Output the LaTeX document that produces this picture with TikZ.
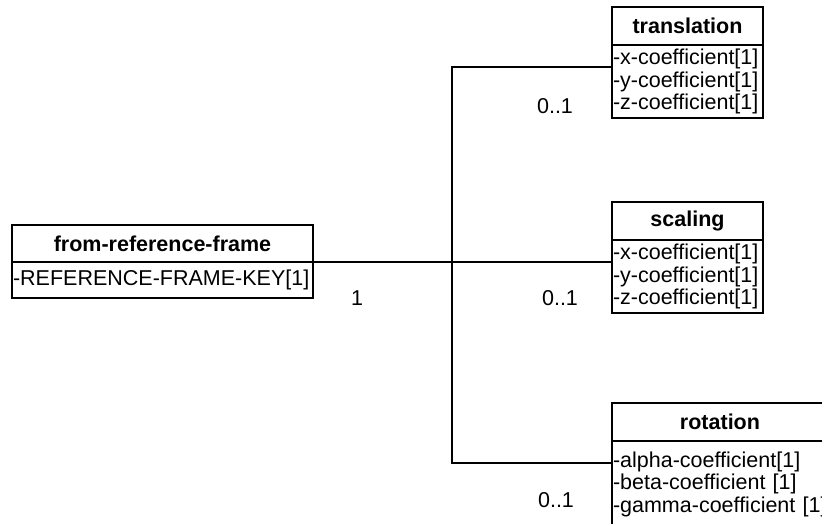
\documentclass[tikz,border=0pt]{standalone}
\usepackage{fontspec}
\setmainfont{Liberation Sans}
\begin{document}
\begin{tikzpicture}[x=1pt,y=-1pt,
  umlhead/.style={draw, line width=1.5pt, inner sep=0pt, outer sep=0pt,
    anchor=north west, minimum height=38pt,
    font=\bfseries\fontsize{21.5}{22.5}\selectfont},
  umlattr/.style={draw, line width=1.5pt, inner xsep=1pt, inner ysep=0pt,
    outer sep=0pt, anchor=north west, align=left,
    font=\fontsize{21.5}{22.5}\selectfont},
  link/.style={line width=1.2pt},
  mult/.style={anchor=base, font=\fontsize{21.5}{22.5}\selectfont}]
\useasboundingbox (0,0) rectangle (822,523);
\clip (0,0) rectangle (822,523);

% class from-reference-frame
\node[umlhead, minimum width=301pt, minimum height=37pt] (fh) at (12,225) {from-reference-frame};
\node[umlattr, text width=299pt, minimum height=36pt] (fa) at (fh.south west) {-REFERENCE-FRAME-KEY[1]};

% class translation
\node[umlhead, minimum width=151pt] (th) at (612,7) {translation};
\node[umlattr, text width=149pt, minimum height=73pt] (ta) at (th.south west)
  {-x-coefficient[1]\\-y-coefficient[1]\\-z-coefficient[1]};

% class scaling
\node[umlhead, minimum width=151pt] (sh) at (612,202) {scaling};
\node[umlattr, text width=149pt, minimum height=73pt] (sa) at (sh.south west)
  {-x-coefficient[1]\\-y-coefficient[1]\\-z-coefficient[1]};

% class rotation (runs past the right and bottom edges)
\node[umlhead, minimum width=216pt] (rh) at (612,403) {rotation};
\node[umlattr, text width=240pt, minimum height=86pt] (ra) at (rh.south west)
  {-alpha-coefficient[1]\\-beta-coefficient [1]\\-gamma-coefficient [1]};

% branching association
\coordinate (hub) at (452,262);
\draw[link] (fh.south east) -- (hub);
\draw[link] ([yshift=-22pt]ta.north west) -| (hub) |- ([yshift=-22pt]ra.north west);
\draw[link] (hub) -- ([yshift=-22pt]sa.north west);

% multiplicities
\node[mult] (m0) at (357,305) {1};
\node[mult] (m1) at (555,113) {0..1};
\node[mult] (m2) at (560,305) {0..1};
\node[mult] (m3) at (556,507) {0..1};
\end{tikzpicture}
\end{document}
